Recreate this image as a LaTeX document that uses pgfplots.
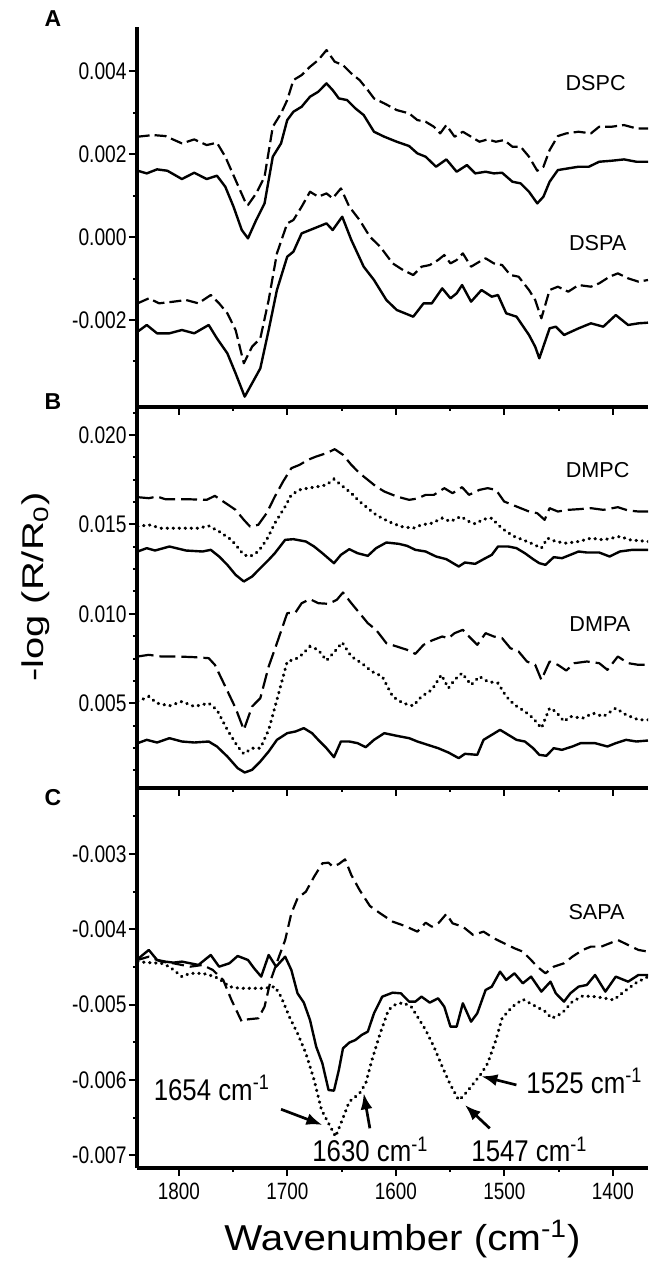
\documentclass[border=0pt]{standalone}
\usepackage{fontspec}
\setmainfont{Liberation Sans}
\newfontfamily\narrowf{Liberation Sans}[FakeStretch=0.8]
\newfontfamily\annf{Liberation Sans}[FakeStretch=0.86]
\newfontfamily\widef{Liberation Sans}[FakeStretch=1.12]
\newfontfamily\widerf{Liberation Sans}[FakeStretch=1.33]
\usepackage{pgfplots}
\pgfplotsset{compat=1.18}
\usetikzlibrary{arrows.meta}
\tikzset{
  sol/.style={black, line width=1.2pt, line join=round},
  dsh/.style={black, line width=1.1pt, line join=round, dash pattern=on 6pt off 2.5pt},
  dshB/.style={black, line width=1.1pt, line join=round, dash pattern=on 8pt off 3pt},
  dot/.style={black, line width=1.6pt, line cap=round, dash pattern=on 0.2pt off 2.8pt},
  lab/.style={font=\fontsize{10.8}{12}\selectfont},
}
\pgfplotsset{
  panel/.style={
    scale only axis, width=255.5pt, anchor=north west,
    x dir=reverse, xmin=1367.6, xmax=1838.7,
    axis x line*=bottom, axis y line*=left,
    axis line style={-, line width=2pt},
    tick align=outside, major tick length=4pt, minor tick length=2pt,
    tick style={line width=1pt, black},
    xtick={1400,1500,1600,1700,1800}, minor xtick={1450,1550,1650,1750},
    scaled y ticks=false, scaled x ticks=false,
    yticklabel style={font=\fontsize{12}{13}\selectfont\narrowf, inner sep=1pt},
    xticklabel style={font=\fontsize{11.8}{13}\selectfont\narrowf},
    clip=true,
  },
}
\begin{document}
\begin{tikzpicture}
\useasboundingbox (0,0) rectangle (324pt,-633.5pt);

% ---------------- Panel A ----------------
\begin{axis}[panel, at={(68.5pt,-13.35pt)}, height=190pt,
  ymin=-4.09e-3, ymax=5.07e-3,
  ytick={-0.002,0,0.002,0.004}, yticklabels={-0.002,0.000,0.002,0.004},
  minor ytick={-0.003,-0.001,0.001,0.003}, xticklabels={}]
\addplot[dsh] coordinates {(1838.1,2.418e-3)(1824.0,2.458e-3)(1812.6,2.434e-3)(1797.3,2.257e-3)(1785.9,2.353e-3)(1774.5,2.217e-3)(1765.0,2.273e-3)(1757.3,1.936e-3)(1747.8,1.373e-3)(1738.3,0.811e-3)(1736.4,0.771e-3)(1728.8,1.052e-3)(1721.1,1.454e-3)(1713.5,2.659e-3)(1705.9,2.980e-3)(1700.2,3.301e-3)(1694.5,3.783e-3)(1686.9,3.904e-3)(1679.2,4.104e-3)(1671.6,4.265e-3)(1664.0,4.506e-3)(1656.4,4.225e-3)(1648.8,4.145e-3)(1641.1,3.944e-3)(1633.5,3.783e-3)(1625.9,3.542e-3)(1620.2,3.341e-3)(1610.7,3.221e-3)(1599.2,3.060e-3)(1587.8,2.980e-3)(1580.2,2.819e-3)(1572.6,2.779e-3)(1565.0,2.659e-3)(1559.2,2.498e-3)(1553.5,2.699e-3)(1545.9,2.418e-3)(1538.3,2.538e-3)(1530.7,2.418e-3)(1523.0,2.297e-3)(1515.4,2.353e-3)(1507.8,2.297e-3)(1500.2,2.337e-3)(1492.6,2.177e-3)(1485.0,2.177e-3)(1477.3,1.936e-3)(1469.7,1.598e-3)(1464.0,1.695e-3)(1458.3,2.096e-3)(1450.7,2.434e-3)(1443.0,2.498e-3)(1431.6,2.538e-3)(1420.2,2.498e-3)(1412.6,2.659e-3)(1401.1,2.659e-3)(1389.7,2.699e-3)(1378.3,2.618e-3)(1367.6,2.618e-3)};
\addplot[sol] coordinates {(1838.1,1.598e-3)(1829.7,1.534e-3)(1820.2,1.631e-3)(1810.7,1.598e-3)(1797.3,1.398e-3)(1785.9,1.550e-3)(1774.5,1.398e-3)(1765.0,1.478e-3)(1757.3,1.213e-3)(1749.7,0.731e-3)(1742.1,0.169e-3)(1736.4,-0.032e-3)(1728.8,0.410e-3)(1721.1,0.811e-3)(1713.5,1.936e-3)(1705.9,2.257e-3)(1700.2,2.819e-3)(1694.5,3.020e-3)(1686.9,3.141e-3)(1679.2,3.382e-3)(1671.6,3.502e-3)(1664.0,3.703e-3)(1658.3,3.542e-3)(1652.6,3.341e-3)(1645.0,3.301e-3)(1637.3,3.100e-3)(1629.7,2.940e-3)(1620.2,2.538e-3)(1610.7,2.418e-3)(1599.2,2.297e-3)(1587.8,2.193e-3)(1580.2,2.016e-3)(1572.6,1.936e-3)(1563.0,1.695e-3)(1553.5,1.871e-3)(1544.0,1.574e-3)(1534.5,1.735e-3)(1526.9,1.534e-3)(1517.3,1.574e-3)(1509.7,1.534e-3)(1502.1,1.550e-3)(1492.6,1.333e-3)(1485.0,1.293e-3)(1477.3,1.092e-3)(1469.7,0.811e-3)(1464.0,0.972e-3)(1458.3,1.333e-3)(1450.7,1.614e-3)(1441.1,1.655e-3)(1431.6,1.695e-3)(1422.1,1.695e-3)(1412.6,1.815e-3)(1401.1,1.839e-3)(1389.7,1.871e-3)(1378.3,1.815e-3)(1367.6,1.815e-3)};
\addplot[dsh] coordinates {(1838.1,-1.598e-3)(1827.8,-1.478e-3)(1818.3,-1.598e-3)(1805.0,-1.558e-3)(1793.5,-1.518e-3)(1782.1,-1.598e-3)(1770.7,-1.398e-3)(1763.0,-1.598e-3)(1755.4,-1.839e-3)(1747.8,-2.241e-3)(1740.2,-3.044e-3)(1732.6,-2.643e-3)(1725.0,-2.442e-3)(1717.3,-1.518e-3)(1709.7,-0.394e-3)(1700.2,0.329e-3)(1694.5,0.410e-3)(1686.9,0.731e-3)(1679.2,1.092e-3)(1671.6,0.972e-3)(1664.0,1.052e-3)(1658.3,0.932e-3)(1650.7,1.173e-3)(1643.0,0.731e-3)(1633.5,0.410e-3)(1624.0,0.008e-3)(1614.5,-0.233e-3)(1603.0,-0.635e-3)(1593.5,-0.795e-3)(1584.0,-0.916e-3)(1576.4,-0.715e-3)(1568.8,-0.675e-3)(1561.1,-0.554e-3)(1555.4,-0.434e-3)(1549.7,-0.635e-3)(1544.0,-0.554e-3)(1538.3,-0.394e-3)(1530.7,-0.715e-3)(1523.0,-0.594e-3)(1517.3,-0.514e-3)(1509.7,-0.635e-3)(1502.1,-0.675e-3)(1494.5,-0.916e-3)(1486.9,-0.956e-3)(1477.3,-1.277e-3)(1471.6,-1.518e-3)(1465.9,-1.960e-3)(1458.3,-1.277e-3)(1450.7,-1.197e-3)(1441.1,-1.317e-3)(1431.6,-1.157e-3)(1420.2,-1.197e-3)(1412.6,-1.116e-3)(1403.0,-0.956e-3)(1395.4,-0.876e-3)(1385.9,-0.996e-3)(1376.4,-1.076e-3)(1367.6,-1.036e-3)};
\addplot[sol] coordinates {(1838.1,-2.281e-3)(1829.7,-2.120e-3)(1820.2,-2.321e-3)(1808.8,-2.321e-3)(1797.3,-2.241e-3)(1785.9,-2.321e-3)(1772.6,-2.120e-3)(1765.0,-2.442e-3)(1755.4,-2.803e-3)(1747.8,-3.285e-3)(1739.4,-3.847e-3)(1732.6,-3.526e-3)(1725.0,-3.165e-3)(1717.3,-2.241e-3)(1709.7,-1.277e-3)(1700.2,-0.474e-3)(1694.5,-0.353e-3)(1686.9,0.088e-3)(1679.2,0.169e-3)(1671.6,0.249e-3)(1664.0,0.329e-3)(1658.3,0.169e-3)(1649.5,0.490e-3)(1641.1,-0.072e-3)(1629.7,-0.715e-3)(1620.2,-1.036e-3)(1608.8,-1.518e-3)(1599.2,-1.759e-3)(1584.0,-1.920e-3)(1574.5,-1.598e-3)(1566.9,-1.598e-3)(1557.3,-1.237e-3)(1549.7,-1.478e-3)(1544.0,-1.357e-3)(1539.0,-1.157e-3)(1530.7,-1.558e-3)(1521.1,-1.277e-3)(1511.6,-1.438e-3)(1505.9,-1.398e-3)(1498.3,-1.839e-3)(1488.8,-1.920e-3)(1477.3,-2.361e-3)(1471.6,-2.643e-3)(1467.8,-2.924e-3)(1458.3,-2.201e-3)(1452.6,-2.161e-3)(1445.0,-2.361e-3)(1431.6,-2.201e-3)(1420.2,-2.080e-3)(1408.8,-2.161e-3)(1397.3,-1.880e-3)(1385.9,-2.120e-3)(1376.4,-2.080e-3)(1367.6,-2.064e-3)};
\node[lab] at (axis cs:1415.9,3.71e-3) {DSPC};
\node[lab] at (axis cs:1414,-0.145e-3) {DSPA};
\end{axis}

% ---------------- Panel B ----------------
\begin{axis}[panel, at={(68.5pt,-203.35pt)}, height=190.5pt,
  ymin=0.28e-3, ymax=21.58e-3,
  ytick={0.005,0.010,0.015,0.020}, yticklabels={0.005,0.010,0.015,0.020},
  minor ytick={0.00125,0.0025,0.00375,0.00625,0.0075,0.00875,0.01125,0.0125,0.01375,0.01625,0.0175,0.01875,0.02125},
  xticklabels={}]
\addplot[dshB] coordinates {(1838.1,16.522e-3)(1827.8,16.466e-3)(1820.2,16.559e-3)(1812.6,16.410e-3)(1793.5,16.410e-3)(1774.5,16.373e-3)(1766.9,16.596e-3)(1759.2,16.280e-3)(1747.8,15.814e-3)(1740.2,15.255e-3)(1734.5,14.882e-3)(1726.9,14.975e-3)(1719.2,15.627e-3)(1711.6,16.559e-3)(1704.0,17.398e-3)(1696.4,18.143e-3)(1688.8,18.329e-3)(1681.1,18.609e-3)(1673.5,18.795e-3)(1664.0,18.982e-3)(1656.4,19.205e-3)(1648.8,18.889e-3)(1641.1,18.329e-3)(1633.5,17.863e-3)(1625.9,17.491e-3)(1618.3,17.118e-3)(1610.7,16.839e-3)(1599.2,16.559e-3)(1587.8,16.373e-3)(1580.2,16.447e-3)(1572.6,16.652e-3)(1565.0,16.652e-3)(1555.4,17.025e-3)(1547.8,16.745e-3)(1539.0,17.081e-3)(1532.6,16.652e-3)(1523.0,16.932e-3)(1515.4,17.025e-3)(1507.8,16.932e-3)(1500.2,16.280e-3)(1492.6,16.093e-3)(1485.0,15.907e-3)(1477.3,15.721e-3)(1469.7,15.627e-3)(1462.9,15.255e-3)(1458.3,15.907e-3)(1450.7,15.721e-3)(1441.1,15.814e-3)(1431.6,15.851e-3)(1420.2,15.907e-3)(1408.8,15.814e-3)(1395.4,15.963e-3)(1385.9,15.777e-3)(1376.4,15.721e-3)(1367.6,15.721e-3)};
\addplot[dot] coordinates {(1838.1,14.882e-3)(1827.8,14.975e-3)(1816.4,14.789e-3)(1801.1,14.789e-3)(1782.1,14.789e-3)(1772.6,14.919e-3)(1763.0,14.603e-3)(1751.6,14.137e-3)(1740.2,13.298e-3)(1734.5,13.205e-3)(1726.9,13.485e-3)(1719.2,14.137e-3)(1711.6,15.068e-3)(1702.1,16.000e-3)(1696.4,16.652e-3)(1688.8,16.932e-3)(1681.1,17.025e-3)(1671.6,17.118e-3)(1664.0,17.211e-3)(1657.1,17.528e-3)(1648.8,17.118e-3)(1641.1,16.745e-3)(1633.5,16.280e-3)(1625.9,15.907e-3)(1618.3,15.534e-3)(1606.9,15.162e-3)(1595.4,14.882e-3)(1584.0,14.789e-3)(1576.4,14.975e-3)(1566.9,15.068e-3)(1557.3,15.348e-3)(1549.7,15.162e-3)(1540.2,15.441e-3)(1532.6,15.162e-3)(1526.9,15.031e-3)(1519.2,15.292e-3)(1511.6,15.348e-3)(1505.9,14.975e-3)(1498.3,14.603e-3)(1490.7,14.323e-3)(1483.0,14.137e-3)(1475.4,13.950e-3)(1465.9,13.671e-3)(1460.2,14.230e-3)(1452.6,14.044e-3)(1443.0,13.950e-3)(1431.6,14.044e-3)(1420.2,14.230e-3)(1408.8,14.137e-3)(1393.5,14.323e-3)(1384.0,14.137e-3)(1367.6,14.044e-3)};
\addplot[sol] coordinates {(1838.1,13.485e-3)(1829.7,13.671e-3)(1822.1,13.540e-3)(1808.8,13.764e-3)(1793.5,13.540e-3)(1778.3,13.485e-3)(1770.7,13.578e-3)(1763.0,13.205e-3)(1755.4,12.739e-3)(1747.8,12.180e-3)(1740.2,11.808e-3)(1732.6,12.087e-3)(1725.0,12.553e-3)(1717.3,13.019e-3)(1711.6,13.391e-3)(1702.1,14.137e-3)(1694.5,14.174e-3)(1683.0,14.044e-3)(1675.4,13.764e-3)(1667.8,13.391e-3)(1657.1,12.832e-3)(1650.7,13.298e-3)(1643.0,13.615e-3)(1635.4,13.391e-3)(1625.9,13.242e-3)(1618.3,13.671e-3)(1608.8,13.988e-3)(1597.3,13.913e-3)(1589.7,13.801e-3)(1582.1,13.578e-3)(1572.6,13.485e-3)(1563.0,13.205e-3)(1553.5,13.056e-3)(1542.1,12.646e-3)(1536.4,12.870e-3)(1526.9,12.795e-3)(1519.2,13.056e-3)(1511.6,13.298e-3)(1505.9,13.764e-3)(1496.4,13.764e-3)(1488.8,13.671e-3)(1481.1,13.391e-3)(1473.5,13.056e-3)(1467.8,12.832e-3)(1462.1,12.739e-3)(1454.5,13.168e-3)(1446.9,13.112e-3)(1439.2,13.298e-3)(1431.6,13.485e-3)(1424.0,13.429e-3)(1412.6,13.429e-3)(1403.0,13.205e-3)(1393.5,13.485e-3)(1382.1,13.578e-3)(1367.6,13.578e-3)};
\addplot[dshB] coordinates {(1838.1,7.615e-3)(1827.8,7.708e-3)(1816.4,7.615e-3)(1801.1,7.615e-3)(1785.9,7.578e-3)(1772.6,7.522e-3)(1766.9,7.149e-3)(1757.3,5.938e-3)(1747.8,4.727e-3)(1740.2,3.515e-3)(1732.6,4.820e-3)(1725.0,5.286e-3)(1717.3,7.056e-3)(1709.7,8.360e-3)(1700.2,10.037e-3)(1692.6,10.075e-3)(1686.9,10.596e-3)(1679.2,10.820e-3)(1671.6,10.596e-3)(1662.1,10.559e-3)(1654.5,10.783e-3)(1648.8,11.193e-3)(1641.1,10.596e-3)(1633.5,10.037e-3)(1625.9,9.478e-3)(1618.3,9.106e-3)(1608.8,8.360e-3)(1599.2,8.174e-3)(1589.7,7.988e-3)(1582.1,7.764e-3)(1574.5,8.267e-3)(1566.9,8.509e-3)(1557.3,8.733e-3)(1551.6,8.640e-3)(1545.9,8.919e-3)(1538.3,9.106e-3)(1532.6,8.733e-3)(1525.0,8.267e-3)(1517.3,8.919e-3)(1509.7,8.733e-3)(1502.1,8.640e-3)(1494.5,8.081e-3)(1486.9,7.894e-3)(1479.2,7.335e-3)(1471.6,7.149e-3)(1465.9,6.310e-3)(1458.3,7.335e-3)(1450.7,7.149e-3)(1443.0,6.832e-3)(1435.4,7.242e-3)(1424.0,7.335e-3)(1412.6,7.242e-3)(1405.0,6.869e-3)(1395.4,7.615e-3)(1385.9,7.242e-3)(1376.4,7.149e-3)(1367.6,7.149e-3)};
\addplot[dot] coordinates {(1838.1,5.099e-3)(1827.8,5.379e-3)(1820.2,5.006e-3)(1808.8,4.857e-3)(1797.3,5.099e-3)(1785.9,4.820e-3)(1772.6,5.006e-3)(1765.0,4.633e-3)(1755.4,3.515e-3)(1745.9,2.584e-3)(1740.2,2.174e-3)(1732.6,2.490e-3)(1725.0,2.490e-3)(1717.3,3.515e-3)(1709.7,5.192e-3)(1700.2,7.335e-3)(1692.6,7.466e-3)(1686.9,7.708e-3)(1679.2,8.174e-3)(1671.6,7.988e-3)(1664.0,7.391e-3)(1656.4,7.894e-3)(1649.5,8.398e-3)(1641.1,7.615e-3)(1631.6,7.242e-3)(1622.1,6.776e-3)(1612.6,6.497e-3)(1603.0,5.379e-3)(1593.5,5.006e-3)(1584.0,4.857e-3)(1576.4,5.379e-3)(1566.9,5.752e-3)(1558.1,6.590e-3)(1551.6,5.845e-3)(1545.9,6.310e-3)(1539.0,6.683e-3)(1530.7,6.031e-3)(1523.0,6.497e-3)(1515.4,6.217e-3)(1505.9,6.124e-3)(1498.3,5.379e-3)(1490.7,4.913e-3)(1481.1,4.540e-3)(1473.5,4.168e-3)(1465.9,3.609e-3)(1458.3,4.727e-3)(1452.6,4.540e-3)(1445.0,3.982e-3)(1439.2,4.261e-3)(1427.8,4.168e-3)(1418.3,4.447e-3)(1408.8,4.261e-3)(1397.3,4.727e-3)(1387.8,4.354e-3)(1376.4,4.075e-3)(1367.6,4.075e-3)};
\addplot[sol] coordinates {(1838.1,2.770e-3)(1829.7,2.956e-3)(1820.2,2.807e-3)(1808.8,3.049e-3)(1797.3,2.863e-3)(1785.9,2.807e-3)(1772.6,2.863e-3)(1765.0,2.584e-3)(1755.4,2.025e-3)(1745.9,1.373e-3)(1739.4,1.130e-3)(1732.6,1.279e-3)(1725.0,1.745e-3)(1717.3,2.304e-3)(1709.7,2.956e-3)(1700.2,3.329e-3)(1692.6,3.422e-3)(1684.9,3.609e-3)(1677.3,3.329e-3)(1671.6,2.956e-3)(1664.0,2.490e-3)(1657.1,1.987e-3)(1650.7,2.863e-3)(1643.0,2.863e-3)(1635.4,2.770e-3)(1627.8,2.546e-3)(1620.2,2.956e-3)(1610.7,3.329e-3)(1599.2,3.180e-3)(1587.8,3.049e-3)(1580.2,2.863e-3)(1570.7,2.677e-3)(1561.1,2.490e-3)(1551.6,2.248e-3)(1542.1,1.932e-3)(1536.4,2.174e-3)(1525.0,2.118e-3)(1519.2,2.956e-3)(1511.6,3.236e-3)(1504.0,3.515e-3)(1496.4,3.236e-3)(1488.8,2.956e-3)(1481.1,2.863e-3)(1473.5,2.490e-3)(1467.8,2.118e-3)(1461.3,2.062e-3)(1454.5,2.490e-3)(1446.9,2.397e-3)(1437.3,2.584e-3)(1429.7,2.770e-3)(1416.4,2.770e-3)(1405.0,2.584e-3)(1397.3,2.770e-3)(1387.8,2.956e-3)(1378.3,2.863e-3)(1367.6,2.919e-3)};
\node[lab] at (axis cs:1414,18.03e-3) {DMPC};
\node[lab] at (axis cs:1412,9.44e-3) {DMPA};
\end{axis}

% ---------------- Panel C ----------------
\begin{axis}[panel, at={(68.5pt,-393.85pt)}, height=190.15pt,
  ymin=-7.169e-3, ymax=-2.12e-3,
  ytick={-0.007,-0.006,-0.005,-0.004,-0.003}, yticklabels={-0.007,-0.006,-0.005,-0.004,-0.003},
  minor ytick={-0.0065,-0.0055,-0.0045,-0.0035,-0.0025},
  xticklabels={1400,1500,1600,1700,1800}]
\addplot[dsh, dash pattern=on 6pt off 3pt] coordinates {(1838.1,-4.407e-3)(1827.8,-4.363e-3)(1816.4,-4.429e-3)(1805.0,-4.451e-3)(1789.7,-4.496e-3)(1778.3,-4.473e-3)(1768.8,-4.540e-3)(1759.2,-4.673e-3)(1751.6,-4.938e-3)(1742.1,-5.226e-3)(1736.4,-5.195e-3)(1726.9,-5.181e-3)(1721.1,-5.027e-3)(1715.4,-4.673e-3)(1707.8,-4.363e-3)(1702.1,-4.142e-3)(1696.4,-3.788e-3)(1690.7,-3.588e-3)(1683.0,-3.500e-3)(1675.4,-3.301e-3)(1667.8,-3.124e-3)(1662.1,-3.115e-3)(1658.3,-3.168e-3)(1652.6,-3.133e-3)(1646.9,-3.071e-3)(1641.1,-3.279e-3)(1633.5,-3.478e-3)(1624.0,-3.690e-3)(1614.5,-3.788e-3)(1603.0,-3.898e-3)(1591.6,-3.956e-3)(1580.2,-4.031e-3)(1572.6,-3.912e-3)(1566.9,-3.965e-3)(1560.4,-3.912e-3)(1553.5,-3.796e-3)(1547.8,-3.920e-3)(1538.3,-3.965e-3)(1528.8,-4.075e-3)(1519.2,-4.031e-3)(1509.7,-4.119e-3)(1500.2,-4.186e-3)(1490.7,-4.252e-3)(1483.0,-4.296e-3)(1475.4,-4.407e-3)(1469.7,-4.496e-3)(1462.1,-4.584e-3)(1454.5,-4.496e-3)(1445.0,-4.451e-3)(1437.3,-4.363e-3)(1427.8,-4.274e-3)(1420.2,-4.230e-3)(1410.7,-4.230e-3)(1403.0,-4.186e-3)(1395.4,-4.142e-3)(1385.9,-4.208e-3)(1376.4,-4.274e-3)(1367.6,-4.296e-3)};
\addplot[sol] coordinates {(1838.1,-4.398e-3)(1833.5,-4.341e-3)(1827.8,-4.274e-3)(1820.2,-4.407e-3)(1812.6,-4.429e-3)(1805.0,-4.442e-3)(1797.3,-4.429e-3)(1789.7,-4.451e-3)(1782.1,-4.473e-3)(1770.7,-4.341e-3)(1763.0,-4.496e-3)(1753.5,-4.451e-3)(1745.9,-4.354e-3)(1736.4,-4.407e-3)(1730.7,-4.518e-3)(1724.2,-4.628e-3)(1717.3,-4.341e-3)(1710.5,-4.496e-3)(1702.1,-4.363e-3)(1696.4,-4.540e-3)(1690.7,-4.850e-3)(1684.9,-4.973e-3)(1679.2,-5.204e-3)(1673.5,-5.558e-3)(1667.8,-5.779e-3)(1662.1,-6.133e-3)(1657.1,-6.142e-3)(1652.6,-5.867e-3)(1648.8,-5.580e-3)(1643.0,-5.504e-3)(1637.3,-5.469e-3)(1631.6,-5.403e-3)(1625.9,-5.358e-3)(1620.2,-5.115e-3)(1612.6,-4.894e-3)(1603.0,-4.841e-3)(1595.4,-4.850e-3)(1587.8,-4.960e-3)(1582.1,-4.960e-3)(1576.4,-4.894e-3)(1568.8,-4.973e-3)(1561.1,-4.916e-3)(1555.4,-5.027e-3)(1549.7,-5.292e-3)(1544.0,-5.292e-3)(1538.3,-4.982e-3)(1530.7,-5.226e-3)(1525.0,-5.115e-3)(1517.3,-4.805e-3)(1511.6,-4.761e-3)(1504.0,-4.562e-3)(1498.3,-4.673e-3)(1490.7,-4.584e-3)(1483.0,-4.717e-3)(1475.4,-4.628e-3)(1465.9,-4.827e-3)(1457.5,-4.695e-3)(1452.6,-4.850e-3)(1445.0,-4.960e-3)(1439.2,-4.850e-3)(1431.6,-4.761e-3)(1424.0,-4.739e-3)(1416.4,-4.606e-3)(1406.9,-4.827e-3)(1397.3,-4.628e-3)(1385.9,-4.695e-3)(1376.4,-4.606e-3)(1367.6,-4.606e-3)};
\addplot[dot] coordinates {(1838.1,-4.429e-3)(1827.8,-4.442e-3)(1816.4,-4.451e-3)(1808.8,-4.496e-3)(1797.3,-4.628e-3)(1789.7,-4.584e-3)(1778.3,-4.584e-3)(1766.9,-4.628e-3)(1759.2,-4.695e-3)(1753.5,-4.761e-3)(1744.0,-4.783e-3)(1732.6,-4.783e-3)(1721.1,-4.783e-3)(1711.6,-4.761e-3)(1705.9,-4.894e-3)(1698.3,-5.159e-3)(1690.7,-5.381e-3)(1683.0,-5.646e-3)(1675.4,-6.000e-3)(1668.6,-6.398e-3)(1662.1,-6.575e-3)(1655.6,-6.752e-3)(1649.5,-6.531e-3)(1643.0,-6.288e-3)(1633.5,-6.177e-3)(1627.8,-6.044e-3)(1622.1,-5.735e-3)(1614.5,-5.381e-3)(1606.9,-5.071e-3)(1601.1,-5.004e-3)(1593.5,-4.973e-3)(1585.9,-5.027e-3)(1580.2,-5.159e-3)(1572.6,-5.336e-3)(1565.0,-5.558e-3)(1557.3,-5.823e-3)(1549.7,-6.066e-3)(1542.1,-6.265e-3)(1538.3,-6.221e-3)(1530.7,-6.088e-3)(1521.1,-5.912e-3)(1515.4,-5.779e-3)(1507.8,-5.469e-3)(1502.1,-5.181e-3)(1492.6,-5.027e-3)(1483.0,-4.929e-3)(1473.5,-5.004e-3)(1462.1,-5.093e-3)(1456.4,-5.181e-3)(1446.9,-5.115e-3)(1437.3,-4.960e-3)(1427.8,-4.885e-3)(1416.4,-4.894e-3)(1406.9,-4.916e-3)(1399.2,-4.938e-3)(1389.7,-4.827e-3)(1378.3,-4.708e-3)(1367.6,-4.628e-3)};
\node[lab] at (axis cs:1415,-3.774e-3) {SAPA};
\begin{scope}[line width=1.35pt, -{Latex[length=8pt,width=6pt]}]
\draw (axis cs:1705.9,-6.389e-3) -- (axis cs:1667.8,-6.597e-3);
\draw (axis cs:1624.0,-6.642e-3) -- (axis cs:1629.7,-6.177e-3);
\draw (axis cs:1513.5,-6.642e-3) -- (axis cs:1536.4,-6.332e-3);
\draw (axis cs:1488.9,-6.066e-3) -- (axis cs:1521.2,-5.950e-3);
\end{scope}
\end{axis}

% ---------------- texts ----------------
\begin{scope}[font=\fontsize{15}{17}\selectfont\annf]
\node[anchor=base west, inner sep=0] at (76.7pt,-550pt) {1654 cm\textsuperscript{-1}};
\node[anchor=base west, inner sep=0] at (156pt,-580.8pt) {1630 cm\textsuperscript{-1}};
\node[anchor=base west, inner sep=0] at (235.5pt,-580.8pt) {1547 cm\textsuperscript{-1}};
\node[anchor=base west, inner sep=0] at (263pt,-546.7pt) {1525 cm\textsuperscript{-1}};
\end{scope}
\node[font=\fontsize{11.5}{13}\selectfont\bfseries] at (26.5pt,-9.25pt) {A};
\node[font=\fontsize{11.5}{13}\selectfont\bfseries] at (26.5pt,-200.8pt) {B};
\node[font=\fontsize{11.5}{13}\selectfont\bfseries] at (26.5pt,-399pt) {C};
\node[rotate=90, font=\fontsize{15}{18}\selectfont\widerf] at (18pt,-293.5pt) {-log (R/R\textsubscript{0})};
\node[anchor=base, font=\fontsize{18}{20}\selectfont\widef] at (201.25pt,-625pt) {Wavenumber (cm\textsuperscript{-1})};
\end{tikzpicture}
\end{document}
